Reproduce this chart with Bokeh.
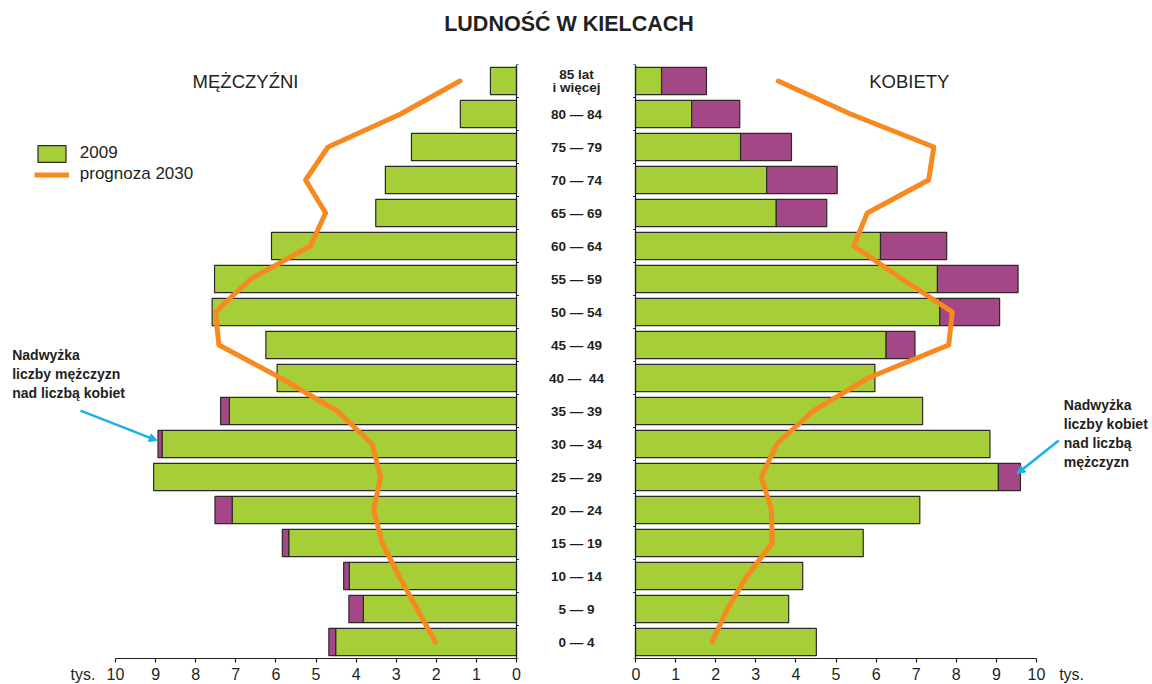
from bokeh.plotting import figure
from bokeh.layouts import column, row
from bokeh.models import (Range1d, Span, Label, Arrow, NormalHead, Legend,
                          LegendItem, FixedTicker, LinearAxis)
from bokeh.core.properties import value
from bokeh.embed import file_html
from bokeh.resources import INLINE

# ---------------- data ----------------
age_groups = ["0 — 4", "5 — 9", "10 — 14", "15 — 19", "20 — 24", "25 — 29",
              "30 — 34", "35 — 39", "40 —\u00a0 44", "45 — 49", "50 — 54",
              "55 — 59", "60 — 64", "65 — 69", "70 — 74", "75 — 79",
              "80 — 84", "85 lat\ni więcej"]
men_2009 = [4.68, 4.18, 4.31, 5.84, 7.52, 9.05, 8.94, 7.38, 5.97, 6.25,
            7.59, 7.53, 6.11, 3.51, 3.27, 2.62, 1.40, 0.65]
women_2009 = [4.51, 3.82, 4.17, 5.68, 7.09, 9.60, 8.84, 7.16, 5.97, 6.97,
              9.08, 9.54, 7.76, 4.77, 5.03, 3.89, 2.60, 1.77]
men_2030 = [2.02, 2.48, 2.93, 3.35, 3.56, 3.39, 3.60, 4.47, 5.88, 7.42,
            7.51, 6.63, 5.14, 4.76, 5.26, 4.70, 2.89, 1.41]
women_2030 = [1.91, 2.29, 2.78, 3.41, 3.39, 3.14, 3.52, 4.43, 5.80, 7.81,
              7.90, 6.65, 5.44, 5.78, 7.31, 7.44, 5.36, 3.56]
x_ticks = list(range(0, 11))

title_text = "LUDNOŚĆ W KIELCACH"
men_title = "MĘŻCZYŹNI"
women_title = "KOBIETY"
legend_labels = ["2009", "prognoza 2030"]
note_men = ["Nadwyżka", "liczby mężczyzn", "nad liczbą kobiet"]
note_women = ["Nadwyżka", "liczby kobiet", "nad liczbą", "mężczyzn"]
unit_label = "tys."

# ---------------- style ----------------
GREEN = "#a6ce39"
PURPLE = "#a34787"
ORANGE = "#f7891f"
OUTLINE = "#2b2a29"
INK = "#231f20"
BLUE = "#1bb0e6"
FONT = "Liberation Sans"

PPU = 40.1                     # pixels per thousand
N = len(age_groups)
TITLE_H = 35
FRAME_TOP = 64
FRAME_H = 594
TOP = FRAME_TOP - TITLE_H

L_W, L_ZERO = 631, 516
R_W, R_ZERO = 521, 4


def yref(py):
    """data y from a reference pixel row"""
    return (660 - py) / 33.0556 - 0.5


def xl(px):
    return (516 - px) / PPU


def xr(px):
    return (px - 635) / PPU


idx = list(range(N))
common = [min(m, w) for m, w in zip(men_2009, women_2009)]


def base_fig(width, x_range, unit_pos):
    p = figure(frame_width=width, frame_height=FRAME_H, x_range=x_range,
               y_range=Range1d(-0.5, N - 0.5), toolbar_location=None,
               output_backend="svg", y_axis_location=None,
               x_axis_location=None,
               min_border_left=0, min_border_right=0, min_border_top=TOP,
               min_border_bottom=0)
    p.outline_line_color = None
    p.grid.visible = False
    p.background_fill_color = "white"
    p.border_fill_color = "white"
    # axis line and tick marks (tick marks as unlabeled minor ticks)
    ax = LinearAxis(ticker=FixedTicker(ticks=[], minor_ticks=x_ticks),
                    bounds=(0, 10))
    ax.major_tick_in = 0
    ax.major_tick_out = 0
    ax.major_tick_line_color = None
    ax.minor_tick_in = 0
    ax.minor_tick_out = 4
    ax.minor_tick_line_color = INK
    ax.minor_tick_line_width = 1.2
    ax.axis_line_color = INK
    ax.axis_line_width = 1.2
    ax.major_label_standoff = 0
    p.add_layout(ax, "below")
    # tick labels + unit
    lab = LinearAxis(ticker=FixedTicker(ticks=x_ticks + [unit_pos]),
                     major_label_overrides={unit_pos: unit_label})
    lab.axis_line_color = None
    lab.major_tick_line_color = None
    lab.minor_tick_line_color = None
    lab.major_tick_in = 0
    lab.major_tick_out = 0
    lab.major_label_text_font = FONT
    lab.major_label_text_font_size = "16px"
    lab.major_label_text_color = INK
    lab.major_label_standoff = 3
    p.add_layout(lab, "below")
    return p


def draw_panel(p, totals, forecast):
    green = p.hbar(y=idx, left=0, right=common, height=0.83,
                   fill_color=GREEN, line_color=OUTLINE, line_width=1.2)
    ex = [(i, c, t) for i, c, t in zip(idx, common, totals) if t - c > 0.005]
    p.hbar(y=[e[0] for e in ex], left=[e[1] for e in ex],
           right=[e[2] for e in ex], height=0.83, fill_color=PURPLE,
           line_color=OUTLINE, line_width=1.2)
    p.add_layout(Span(location=0, dimension="height", line_color=INK,
                      line_width=1.2))
    bounds = [i - 0.5 for i in range(N + 1)]
    p.segment(x0=[0] * len(bounds), y0=bounds, x1=[-0.06] * len(bounds),
              y1=bounds, line_color=INK, line_width=1)
    p.line(x=forecast, y=idx, line_color=ORANGE, line_width=5,
           line_cap="round", line_join="round")
    return green


def text_label(p, x, y, text, size, style="normal", align="left"):
    p.add_layout(Label(x=x, y=y, text=text, text_font=FONT,
                       text_font_size=size, text_font_style=style,
                       text_color=INK, text_align=align,
                       text_baseline="middle"))


# ---------------- title ----------------
pt = figure(width=L_W + R_W, height=TITLE_H, x_range=Range1d(0, L_W + R_W),
            y_range=Range1d(0, TITLE_H), toolbar_location=None,
            output_backend="svg", x_axis_location=None, y_axis_location=None,
            min_border=0)
pt.outline_line_color = None
pt.grid.visible = False
pt.text(x=[568.5], y=[TITLE_H - 23.7], text=[title_text],
        text_font=value(FONT), text_font_style="bold",
        text_font_size="21.5px", text_color=INK, text_align="center",
        text_baseline="middle")

# ---------------- men ----------------
pl = base_fig(L_W, Range1d(L_ZERO / PPU, -(L_W - L_ZERO) / PPU), 10.8125)
green_l = draw_panel(pl, men_2009, men_2030)
pl.text(x=[xl(576)] * N, y=idx, text=age_groups, text_font=value(FONT),
        text_font_style="bold", text_font_size="13.5px", text_color=INK,
        text_align="center", text_baseline="middle", text_line_height=0.85)
text_label(pl, xl(245), yref(82.2), men_title, "18.5px", align="center")
for k, line in enumerate(note_men):
    text_label(pl, xl(11.7), yref(355.9 + 19 * k), line, "14px", "bold")
pl.add_layout(Arrow(x_start=xl(80), y_start=yref(411.7),
                    x_end=xl(156.7), y_end=yref(441.7),
                    line_color=BLUE, line_width=2.5,
                    end=NormalHead(size=8, fill_color=BLUE,
                                   line_color=BLUE)))

# legend
dummy_line = pl.line(x=[float("nan")], y=[float("nan")], line_color=ORANGE,
                     line_width=5, line_cap="butt")
GW, GH = 35, 21
leg_top = 145 - 0.1 * GH
leg_h = 2 * GH
legend = Legend(items=[LegendItem(label=legend_labels[0], renderers=[green_l]),
                       LegendItem(label=legend_labels[1],
                                  renderers=[dummy_line])],
                location=(37.3 - 0.1 * GW, FRAME_TOP + FRAME_H - leg_top - leg_h),
                glyph_width=GW, glyph_height=GH, label_height=GH,
                label_standoff=int(round(80 - (37.3 + 0.9 * GW))), spacing=0,
                padding=0, margin=0, border_line_alpha=0,
                background_fill_alpha=0,
                label_text_font=FONT, label_text_font_size="17px",
                label_text_color=INK)
pl.add_layout(legend)

# ---------------- women ----------------
pr = base_fig(R_W, Range1d(-R_ZERO / PPU, (R_W - R_ZERO) / PPU), 10.875)
draw_panel(pr, women_2009, women_2030)
text_label(pr, xr(908.8), yref(82.2), women_title, "18.5px", align="center")
for k, line in enumerate(note_women):
    text_label(pr, xr(1063.3), yref(405.9 + 19.2 * k), line, "14px", "bold")
pr.add_layout(Arrow(x_start=xr(1058.3), y_start=yref(441.7),
                    x_end=xr(1016.5), y_end=yref(475),
                    line_color=BLUE, line_width=2.5,
                    end=NormalHead(size=8, fill_color=BLUE,
                                   line_color=BLUE)))

layout = column(pt, row(pl, pr, spacing=0), spacing=0)
open("out.html", "w").write(file_html(layout, INLINE))
